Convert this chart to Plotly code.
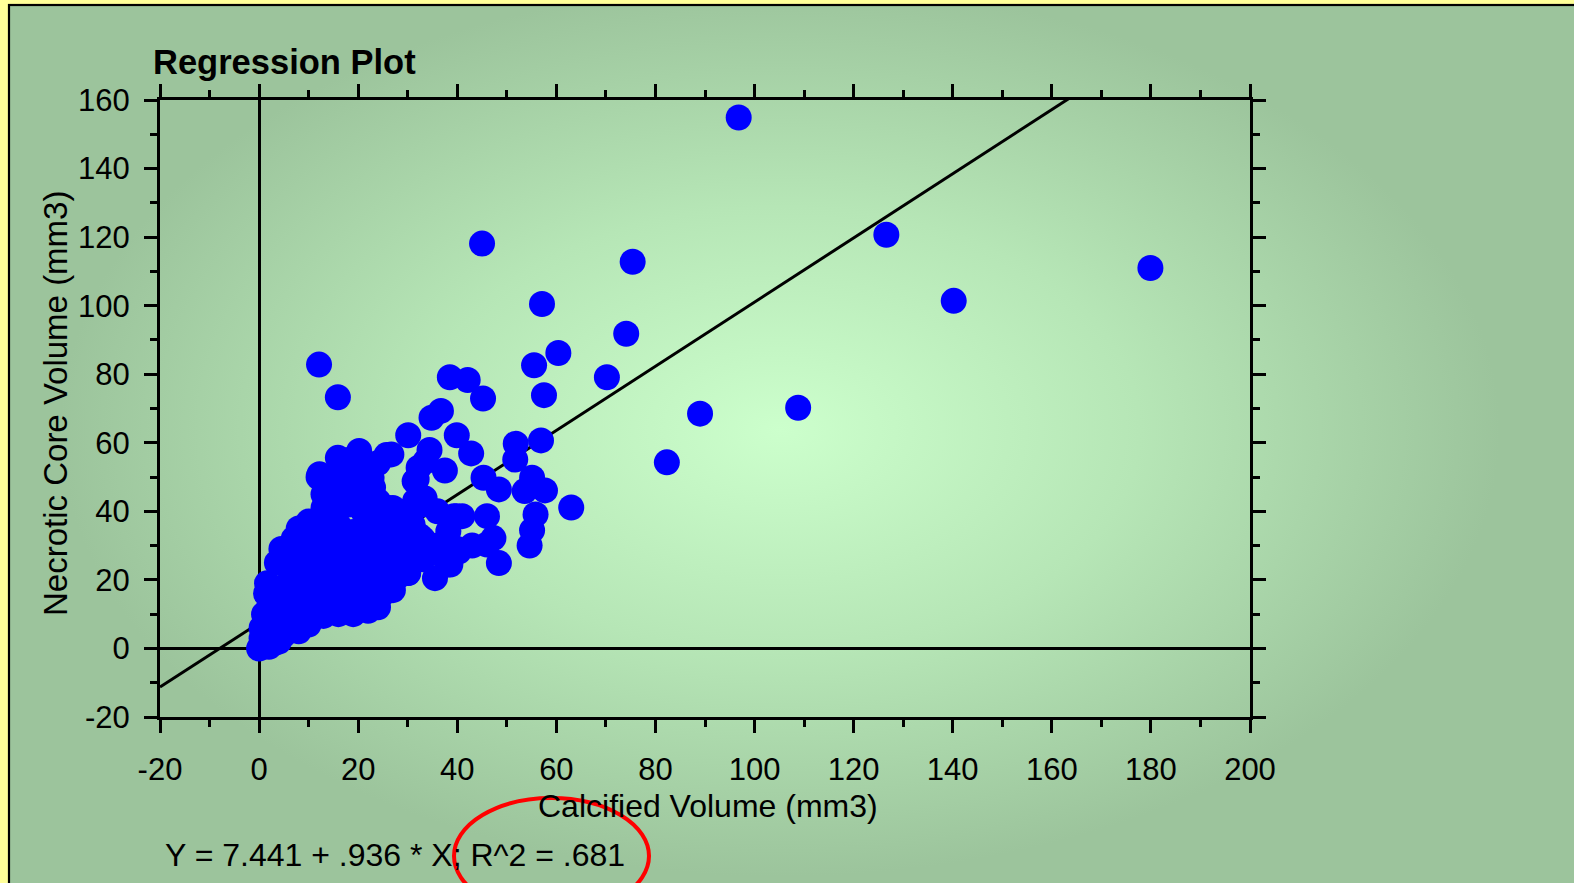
import base64
import plotly.graph_objects as go

# ---------------- data ----------------
x_ticks = [-20, 0, 20, 40, 60, 80, 100, 120, 140, 160, 180, 200]
x_tick_labels = ["-20", "0", "20", "40", "60", "80", "100", "120", "140", "160", "180", "200"]
y_ticks = [-20, 0, 20, 40, 60, 80, 100, 120, 140, 160]
y_tick_labels = ["-20", "0", "20", "40", "60", "80", "100", "120", "140", "160"]

intercept = 7.441
slope = 0.936
equation_text = "Y = 7.441 + .936 * X; R^2 = .681"

# Calcified volume (x) and necrotic core volume (y), mm3
calcified = [
    # outliers
    96.8, 45.0, 75.4, 126.6, 179.9, 140.2, 57.1, 74.1, 55.5, 60.4, 12.1, 15.9,
    38.5, 42.1, 45.2, 57.5, 70.2, 89.0, 108.8, 82.3, 63.0, 56.9, 51.8,
    # mid cloud
    30.1, 34.8, 36.7, 39.9, 42.8, 34.4, 37.5, 51.7, 45.3, 48.4, 55.1, 53.6,
    57.7, 55.8, 55.1, 54.6, 46.0, 47.3, 46.0, 48.4, 39.9, 38.2, 40.3, 38.6,
    35.5, 32.5, 30.1, 32.2, 31.4, 33.4, 33.6, 26.7, 24.0, 20.2, 15.9, 12.2,
    41.0,
    # dense core
    0.0, 0.5, 1.0, 2.0, 3.0, 4.0, 0.5,
    0.5, 1.0, 3.0, 5.0, 6.0, 8.0, 10.0,
    1.0, 2.0, 4.0, 7.0, 10.0, 13.0, 16.0, 19.0, 22.0, 24.0,
    1.4, 3.0, 5.0, 8.0, 11.0, 14.0, 17.0, 20.0, 23.0, 25.0,
    1.6, 5.0, 7.0, 10.0, 13.0, 16.0, 19.0, 22.0, 25.0, 28.0, 30.0,
    3.6, 6.0, 8.0, 11.0, 14.0, 17.0, 20.0, 23.0, 26.0, 29.0, 32.0, 38.0,
    4.5, 7.0, 9.0, 12.0, 15.0, 18.0, 21.0, 24.0, 27.0, 30.0, 33.0, 36.0, 40.0,
    8.0, 10.0, 13.0, 16.0, 19.0, 22.0, 25.0, 28.0, 31.0, 39.3,
    13.0, 15.0, 18.0, 21.0, 24.0, 27.0, 30.0, 33.0, 36.0,
    12.0, 14.0, 17.0, 20.0, 23.0, 26.0, 31.8, 31.5, 22.7,
    18.0, 22.0, 25.7,
    15.0, 18.0, 20.0, 13.0, 14.0, 16.0, 19.0, 22.0, 25.0, 28.0,
    9.0, 12.0, 15.0, 18.0, 21.0, 24.0, 27.0, 6.0, 9.0, 33.0, 35.0, 43.0,
]
necrotic = [
    # outliers
    154.9, 118.1, 112.8, 120.7, 111.0, 101.4, 100.5, 91.8, 82.6, 86.2, 82.8, 73.3,
    79.1, 78.3, 72.9, 73.9, 79.1, 68.5, 70.2, 54.3, 41.1, 60.7, 59.7,
    # mid cloud
    62.2, 67.3, 69.3, 62.2, 56.9, 57.9, 51.9, 55.1, 49.8, 46.4, 49.8, 45.9,
    46.1, 39.1, 34.5, 30.0, 38.6, 32.2, 30.3, 24.9, 38.6, 34.2, 28.3, 24.5,
    20.5, 32.7, 22.0, 52.7, 48.8, 43.8, 54.6, 56.6, 54.1, 57.6, 55.6, 50.8,
    38.6,
    # dense core
    0.0, 1.0, 2.5, 0.5, 1.5, 2.0, 3.0,
    6.0, 7.0, 5.0, 4.0, 6.0, 5.0, 7.0,
    10.0, 12.0, 10.0, 9.0, 9.0, 9.5, 10.0, 10.0, 11.0, 12.0,
    16.0, 14.0, 15.0, 14.0, 13.0, 14.0, 13.0, 14.0, 15.0, 16.0,
    19.0, 18.0, 21.0, 19.0, 18.0, 17.0, 18.0, 19.0, 20.0, 21.0, 22.0,
    25.0, 27.0, 24.0, 26.0, 23.0, 24.0, 25.0, 26.0, 24.0, 27.0, 26.0, 24.5,
    29.0, 32.0, 30.0, 31.0, 29.0, 30.0, 31.0, 32.0, 30.0, 31.0, 32.0, 30.0, 29.0,
    35.0, 37.0, 35.0, 36.0, 34.0, 36.0, 37.0, 35.0, 36.0, 38.6,
    41.0, 39.0, 42.0, 40.0, 43.0, 41.0, 39.0, 42.0, 40.0,
    50.0, 47.0, 46.0, 48.0, 47.0, 41.0, 49.4, 43.0, 49.7,
    55.0, 52.0, 56.4,
    50.0, 51.0, 52.0, 45.0, 45.0, 43.0, 45.0, 44.0, 38.0, 40.0,
    27.0, 22.0, 20.0, 23.0, 27.0, 20.0, 17.0, 10.0, 12.0, 26.0, 28.0, 30.0,
]

# ---------------- geometry helpers (pixel -> paper) ----------------
W, H = 1574, 883
L, R, T, B = 160, 1250, 100, 717
PW, PH = R - L, B - T


def px(x):
    return (x - L) / PW


def py(y):
    return (B - y) / PH


# ---------------- background gradient ----------------
svg = (
    '<svg xmlns="http://www.w3.org/2000/svg" width="1574" height="883" viewBox="0 0 1574 883">'
    '<defs><radialGradient id="g" gradientUnits="userSpaceOnUse" cx="780" cy="430" r="720" '
    'gradientTransform="translate(780 430) scale(1 0.62) translate(-780 -430)">'
    '<stop offset="0" stop-color="#CCFFCC"/>'
    '<stop offset="0.5" stop-color="#B6E6B6"/>'
    '<stop offset="1" stop-color="#9CC49C"/>'
    '</radialGradient></defs>'
    '<rect x="9" y="5" width="1600" height="920" fill="url(#g)" stroke="#000000" stroke-width="2.2"/>'
    '</svg>'
)
svg_uri = "data:image/svg+xml;base64," + base64.b64encode(svg.encode()).decode()

FONT = "Liberation Sans, Arial, sans-serif"

fig = go.Figure()

line_x = [x_ticks[0], x_ticks[-1]]
line_y = [intercept + slope * v for v in line_x]
fig.add_trace(go.Scatter(
    x=line_x, y=line_y, mode="lines",
    line=dict(color="black", width=3), hoverinfo="skip", showlegend=False,
))
fig.add_trace(go.Scatter(
    x=calcified, y=necrotic, mode="markers",
    marker=dict(color="#0000FF", size=26, line=dict(width=0)),
    showlegend=False, cliponaxis=True,
))

axis_common = dict(
    showline=True, linecolor="black", linewidth=3, mirror="allticks",
    ticks="outside", ticklen=13, tickwidth=3, tickcolor="black",
    showgrid=False, zeroline=True, zerolinecolor="black", zerolinewidth=3,
    tickfont=dict(family=FONT, size=31, color="black"),
    minor=dict(ticks="outside", ticklen=7, tickwidth=3, tickcolor="black", dtick=10, showgrid=False),
    fixedrange=True,
)

fig.update_xaxes(range=[-20, 200], tickmode="array", tickvals=x_ticks, ticktext=x_tick_labels,
                 ticklabelstandoff=10, **axis_common)
fig.update_yaxes(range=[-20, 160], tickmode="array", tickvals=y_ticks, ticktext=y_tick_labels,
                 ticklabelstandoff=8, **axis_common)

annotations = [
    dict(text="<b>Regression Plot</b>", x=px(151), y=py(62), xref="paper", yref="paper",
         xanchor="left", yanchor="middle", showarrow=False,
         font=dict(family=FONT, size=34.5, color="black")),
    dict(text="Calcified Volume (mm3)", x=px(708), y=py(806), xref="paper", yref="paper",
         xanchor="center", yanchor="middle", showarrow=False,
         font=dict(family=FONT, size=32, color="black")),
    dict(text="Necrotic Core Volume (mm3)", x=px(55), y=py(404), xref="paper", yref="paper",
         xanchor="center", yanchor="middle", showarrow=False, textangle=-90,
         font=dict(family=FONT, size=33, color="black")),
    dict(text=equation_text, x=px(163), y=py(855), xref="paper", yref="paper",
         xanchor="left", yanchor="middle", showarrow=False,
         font=dict(family=FONT, size=32, color="black")),
]

shapes = [
    dict(type="circle", xref="paper", yref="paper",
         x0=px(454), x1=px(649), y0=py(798), y1=py(914),
         line=dict(color="#FF0000", width=4), fillcolor="rgba(0,0,0,0)", layer="above"),
]

fig.update_layout(
    width=W, height=H, autosize=False,
    margin=dict(l=L, r=W - R, t=T, b=H - B, pad=0),
    paper_bgcolor="#FFFF99", plot_bgcolor="rgba(0,0,0,0)",
    showlegend=False,
    annotations=annotations, shapes=shapes,
    images=[dict(source=svg_uri, xref="paper", yref="paper", x=px(0), y=py(0),
                 sizex=W / PW, sizey=H / PH, xanchor="left", yanchor="top",
                 sizing="stretch", layer="below")],
)

fig.write_html("out.html", config={"displayModeBar": False},
               post_script="document.body.style.margin='0';document.body.style.overflow='hidden';")
